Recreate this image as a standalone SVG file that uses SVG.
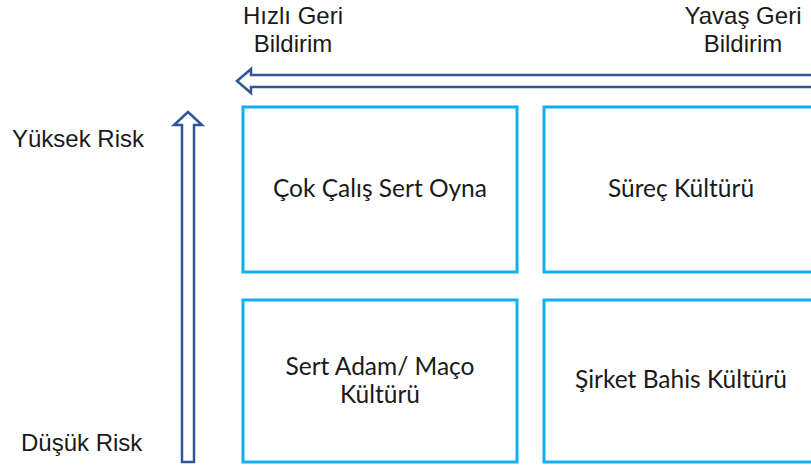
<svg xmlns="http://www.w3.org/2000/svg" width="811" height="469" viewBox="0 0 811 469">
<style>
.lbl{font-family:"Liberation Sans",Arial,sans-serif;font-size:24px;fill:#1a1a1a}
.box{fill:#fff;stroke:#10B0F0;stroke-width:3}
.bt{font-family:Lato,"Open Sans",sans-serif;font-size:24.5px;fill:#1a1a1a;text-anchor:middle}
.arr{fill:#fff;stroke:#2F5597;stroke-width:2.5;stroke-linejoin:miter}
</style>
<rect width="811" height="469" fill="#fff"/>
<g id="labels">
<text class="lbl" x="293" y="24" text-anchor="middle">Hızlı Geri</text>
<text class="lbl" x="293" y="52" text-anchor="middle">Bildirim</text>
<text class="lbl" x="743" y="24" text-anchor="middle">Yavaş Geri</text>
<text class="lbl" x="743" y="52" text-anchor="middle">Bildirim</text>
<text class="lbl" x="12" y="147">Yüksek Risk</text>
<text class="lbl" x="21" y="451">Düşük Risk</text>
</g>
<g id="connectors">
<path class="arr" d="M237,81 L251,69 L251,75 L815,75 L815,87 L251,87 L251,93 Z"/>
<path class="arr" d="M188,112 L202,125 L194,125 L194,462 L182,462 L182,125 L174,125 Z"/>
</g>
<g id="n1"><rect class="box" x="243" y="107" width="274" height="165"/><text class="bt" x="380" y="197">Çok Çalış Sert Oyna</text></g>
<g id="n2"><rect class="box" x="544" y="107" width="274" height="165"/><text class="bt" x="681" y="197">Süreç Kültürü</text></g>
<g id="n3"><rect class="box" x="243" y="300" width="274" height="162"/><text class="bt" x="380" y="375">Sert Adam/ Maço</text><text class="bt" x="380" y="403">Kültürü</text></g>
<g id="n4"><rect class="box" x="544" y="300" width="274" height="162"/><text class="bt" x="681" y="388">Şirket Bahis Kültürü</text></g>
</svg>
